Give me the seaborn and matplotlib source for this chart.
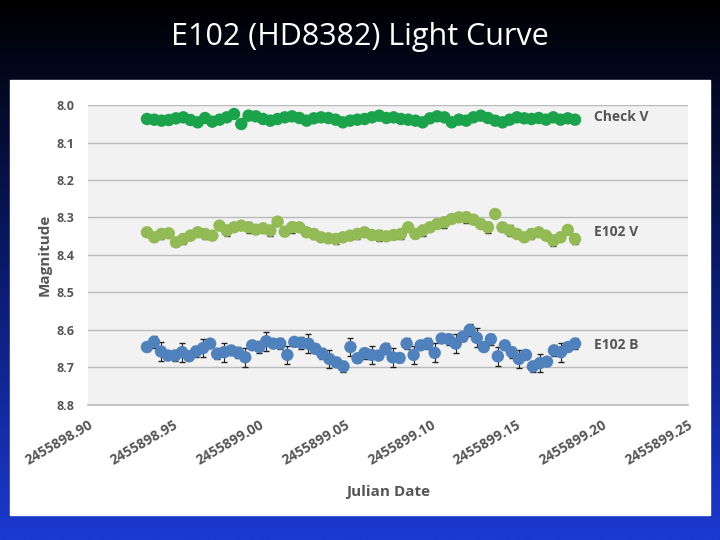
import numpy as np
import pandas as pd
import matplotlib
matplotlib.use("Agg")
import matplotlib.pyplot as plt
import seaborn as sns

t_start, t_end = 2455898.9344, 2455899.1841

check_z = [60,62,65,63,58,55,63,70,57,68,62,55,45,75,50,52,60,65,60,55,52,57,65,58,55,57,62,70,65,62,
           60,55,50,57,55,60,62,65,70,58,52,55,70,62,65,55,50,57,65,70,62,55,58,60,57,62,55,62,58,62]
v_z = [400,415,405,403,430,420,410,400,405,410,380,395,385,380,385,392,388,395,368,398,385,385,400,405,415,418,420,415,410,405,
       400,408,410,412,408,405,385,405,395,385,375,370,360,355,355,362,375,385,345,385,395,405,415,405,400,410,425,415,393,420]
b_z = [115,100,128,140,140,130,142,128,118,105,135,130,125,132,145,110,115,98,105,105,138,100,103,105,120,135,150,160,172,115,148,
       133,138,140,120,145,147,105,138,110,105,132,90,92,105,85,65,88,115,92,142,110,130,150,138,172,162,158,125,130,115,105]
check_v = [8.0 + (z - 18) / 1125 for z in check_z]
e102_v = [8.0 + (z - 18) / 1125 for z in v_z]
e102_b = [8.6 + (z - 65) / 1100 for z in b_z]
err_check = [0.004, 0.006, 0.008]
err_v = [0.006, 0.01, 0.014]
err_b = [0.01, 0.015, 0.025]

def make_df(vals, name, errs):
    n = len(vals)
    return pd.DataFrame({"jd": np.linspace(t_start, t_end, n), "mag": vals,
                         "err": [errs[i % 3] for i in range(n)], "series": name})

df = pd.concat([make_df(check_v, "Check V", err_check),
                make_df(e102_v, "E102 V", err_v),
                make_df(e102_b, "E102 B", err_b)])
colors = {"Check V": "#1aa34a", "E102 V": "#92bb55", "E102 B": "#4f81bd"}

sns.set_theme(style="whitegrid")
plt.rcParams["font.family"] = ["Open Sans", "DejaVu Sans"]
fig = plt.figure(figsize=(7.2, 5.4), dpi=100)
bg = fig.add_axes([0, 0, 1, 1])
grad = np.linspace(0, 1, 256).reshape(-1, 1)
cmap = matplotlib.colors.LinearSegmentedColormap.from_list("bgc", ["#000000", "#0a1a6a", "#1b3ad0"])
bg.imshow(grad, aspect="auto", cmap=cmap, extent=[0, 1, 0, 1], origin="upper")
bg.add_patch(plt.Rectangle((10/720, 25/540), 700/720, 435/540, color="white"))
bg.set_xlim(0, 1); bg.set_ylim(0, 1); bg.axis("off")
fig.text(0.5, 0.932, "E102 (HD8382) Light Curve", color="white", fontsize=22, ha="center", va="center")

ax = fig.add_axes([88/720, 135/540, 600/720, 300/540])
ax.set_facecolor("#f2f2f2")
for name, g in df.groupby("series", sort=False):
    ax.errorbar(g["jd"], g["mag"], yerr=g["err"], fmt="none", ecolor="#222222", elinewidth=0.8, capsize=2)
sns.scatterplot(data=df, x="jd", y="mag", hue="series", palette=colors, s=80, edgecolor="none",
                legend=False, ax=ax, zorder=3)
ax.set_xlim(2455898.90, 2455899.25)
ax.set_ylim(8.8, 8.0)
ax.set_xticks(np.arange(2455898.90, 2455899.26, 0.05))
ax.set_xticklabels([f"{v:.2f}" for v in np.arange(2455898.90, 2455899.26, 0.05)],
                   rotation=30, ha="right", rotation_mode="anchor", fontsize=10, fontweight="bold", color="#555555")
ax.set_yticks(np.arange(8.0, 8.81, 0.1))
ax.set_yticklabels([f"{v:.1f}" for v in np.arange(8.0, 8.81, 0.1)], fontsize=9, fontweight="bold", color="#555555")
ax.grid(axis="x", visible=False)
ax.grid(axis="y", color="#bbbbbb", linewidth=1)
for s in ax.spines.values():
    s.set_visible(False)
ax.spines["bottom"].set_visible(True); ax.spines["bottom"].set_color("#bbbbbb")
ax.set_xlabel("Julian Date", fontsize=11, fontweight="bold", color="#555555", labelpad=12)
ax.set_ylabel("Magnitude", fontsize=11, fontweight="bold", color="#555555")
for lbl, y in [("Check V", 8.033), ("E102 V", 8.34), ("E102 B", 8.64)]:
    ax.text(2455899.195, y, lbl, fontsize=10, fontweight="bold", color="#555555", va="center")
fig.savefig("out.png", dpi=100)
